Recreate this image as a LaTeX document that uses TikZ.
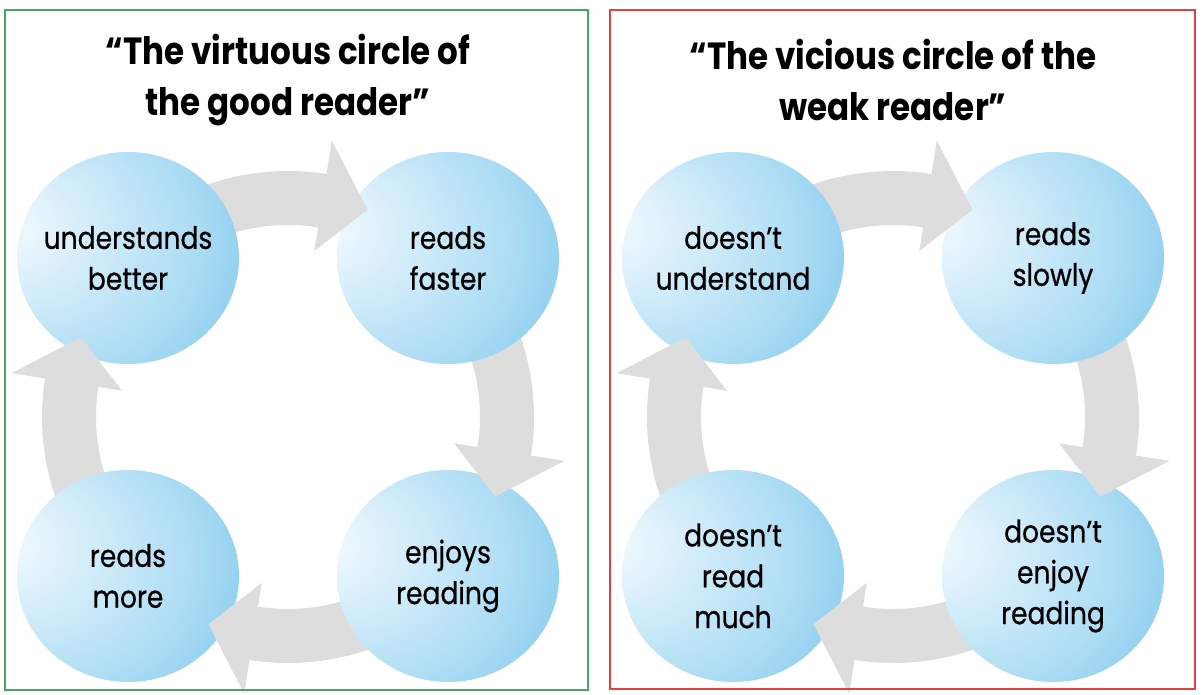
\documentclass[tikz,border=0pt]{standalone}
\usepackage{fontspec}
\setmainfont{Poppins}[FakeStretch=0.86]
\newfontfamily\bubblefont{Poppins}[FakeStretch=0.86,FakeBold=0.7]
\usepackage{tikz}
\usetikzlibrary{shapes.geometric,backgrounds,calc,positioning}

\definecolor{bubhi}{RGB}{246,251,254}
\definecolor{bubhl}{RGB}{212,237,250}
\definecolor{bubmid}{RGB}{172,220,244}
\definecolor{bubdeep}{RGB}{132,202,238}
\definecolor{bubedge}{RGB}{92,182,230}
\definecolor{arrowgray}{RGB}{221,221,221}
\definecolor{framegreen}{RGB}{64,168,96}
\definecolor{framered}{RGB}{228,64,64}

\pgfdeclareradialshading{bubble}{\pgfpoint{-30bp}{8bp}}{%
  color(0bp)=(bubhi); color(14bp)=(bubhl); color(30bp)=(bubmid);%
  color(42bp)=(bubdeep); color(50bp)=(bubedge); color(60bp)=(bubedge)}

\tikzset{
  stage/.style={ellipse, minimum width=222bp, minimum height=212bp,
    inner sep=-24bp, shading=bubble, align=center,
    font=\bubblefont\fontsize{31}{41}\selectfont},
  headline/.style={align=center, font=\fontsize{38}{52}\selectfont\bfseries},
  frame/.style={line width=1.6bp},
  band/.style={fill=arrowgray},
}

\begin{document}
\begin{tikzpicture}[x=1bp,y=1bp]
%%
\useasboundingbox (0,0) rectangle (1203,-695);
%% good reader
\node (ub) at (128,-258) [stage] {understands\\better};
  \node (rf) at (448,-258) [stage] {reads\\faster};
  \node (er) at (448,-576) [stage] {enjoys\\reading};
  \node (rm) at (128,-576) [stage] {reads\\more};
\coordinate (hubL) at ($(ub)!0.5!(er)$);
%% weak reader
\node (du) at (733,-258) [stage] {doesn’t\\understand};
  \node (rs) at (1053,-258) [stage] {reads\\slowly};
  \node (de) at (1053,-576) [stage] {doesn’t\\enjoy\\reading};
  \node (dr) at (733,-576) [stage] {doesn’t\\read\\much};
\coordinate (hubR) at ($(du)!0.5!(de)$);
%
\begin{pgfonlayer}{background}
\foreach \hub in {hubL,hubR}
  \foreach \a in {135,45,-45,-135}
    \fill[band] ($(\hub)+(\a:246)$) arc[start angle=\a, delta angle=-55, radius=246]
      -- ($(\hub)+(\a-55:192)$) arc[start angle=\a-55, delta angle=55, radius=192] -- cycle;
\end{pgfonlayer}
\foreach \hub in {hubL,hubR}
  \foreach \a in {135,45,-45,-135}
    \fill[band] ($(\hub)+(\a-54:280)$) -- ($(\hub)+(\a-66:222)$) -- ($(\hub)+(\a-54:168)$) -- cycle;
%
\node (tgood) at (288,-80) [headline] {“The virtuous circle of\\the good reader”};
\node (tweak) at (893,-80) [headline] {“The vicious circle of the\\weak reader”};
\draw[frame,framegreen] (5,-10) rectangle (588,-690);
\draw[frame,framered] (610,-10) rectangle (1195,-689);
%
\end{tikzpicture}
\end{document}
